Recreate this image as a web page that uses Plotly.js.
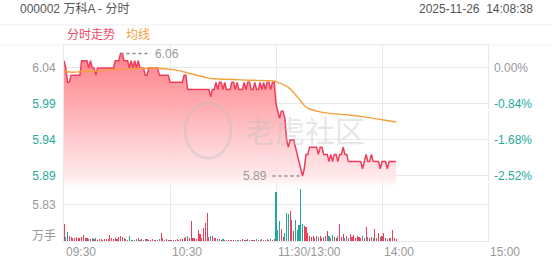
<!DOCTYPE html>
<html>
<head>
<meta charset="utf-8">
<script src="https://cdn.plot.ly/plotly-3.0.1.min.js"></script>
<style>
html,body{margin:0;padding:0;background:#fff;}
#chart{width:552px;height:265px;}
</style>
</head>
<body>
<div id="chart"></div>
<script>
// ---------- data ----------
const stockTitle = '000002 万科A - 分时';
const stamp = '2025-11-26  14:08:38';
const prevClose = 6.04;
// minute index from 09:30 (0) to 15:00 (240), lunch break collapsed
const timeTickVals = [0, 60, 120, 180, 240];
const timeTickText = ['09:30', '10:30', '11:30/13:00', '14:00', '15:00'];

const price = [
  6.05,6.04,6.02,6.02,6.03,6.03,6.03,6.03,6.03,6.03,
  6.05,6.05,6.05,6.05,6.04,6.05,6.04,6.04,6.03,6.04,
  6.04,6.04,6.04,6.04,6.04,6.04,6.04,6.04,6.04,6.05,
  6.05,6.05,6.06,6.06,6.05,6.05,6.05,6.04,6.05,6.04,
  6.05,6.04,6.05,6.04,6.04,6.04,6.03,6.03,6.04,6.04,
  6.04,6.04,6.04,6.04,6.03,6.03,6.03,6.03,6.03,6.03,
  6.02,6.02,6.02,6.02,6.02,6.02,6.02,6.02,6.03,6.03,
  6.01,6.01,6.01,6.01,6.01,6.01,6.01,6.01,6.01,6.01,
  6.01,6.01,6.01,6.00,6.01,6.01,6.02,6.01,6.02,6.02,
  6.01,6.02,6.01,6.01,6.01,6.02,6.02,6.01,6.02,6.01,
  6.01,6.01,6.02,6.01,6.02,6.02,6.01,6.01,6.02,6.01,
  6.01,6.02,6.01,6.02,6.01,6.02,6.02,6.01,6.02,6.02,
  5.99,5.98,5.97,5.98,5.98,5.97,5.94,5.93,5.94,5.94,
  5.94,5.93,5.92,5.91,5.90,5.89,5.90,5.92,5.92,5.93,
  5.93,5.93,5.93,5.93,5.92,5.93,5.93,5.92,5.92,5.92,
  5.91,5.92,5.91,5.92,5.92,5.91,5.92,5.92,5.93,5.92,
  5.92,5.91,5.91,5.91,5.91,5.91,5.91,5.91,5.91,5.90,
  5.91,5.92,5.91,5.91,5.92,5.91,5.91,5.91,5.91,5.90,
  5.91,5.91,5.91,5.90,5.91,5.91,5.91,5.91,5.91
];

const avgIdx = [0,5,10,20,30,40,50,60,66,70,75,80,85,95,105,119,121,124,127,130,133,136,139,145,150,160,170,180,188];
const avgVal = [6.035,6.034,6.035,6.036,6.038,6.039,6.040,6.038,6.036,6.033,6.030,6.027,6.025,6.024,6.023,6.022,6.020,6.017,6.013,6.006,5.997,5.988,5.983,5.979,5.977,5.975,5.972,5.968,5.965];

// volume in 万手
const volume = [
  1.7,0.4,0.9,0.5,0.4,0.3,0.3,0.4,0.3,0.3,
  0.4,0.6,0.3,0.3,0.2,0.2,0.3,0.2,0.3,0.1,
  0.2,0.2,0.1,0.2,0.2,0.2,0.6,0.3,0.2,0.3,
  0.2,0.4,0.5,0.4,0.3,0.2,0.1,0.5,0.1,0.1,
  0.1,0.2,0.3,0.1,0.2,0.1,0.2,0.2,0.1,0.1,
  0.2,0.1,0.1,0.1,0.2,0.8,0.3,0.1,0.2,0.1,
  0.1,0.1,0.1,0.1,0.2,0.1,0.2,0.2,0.3,0.4,
  0.5,0.3,2.0,0.3,0.3,0.2,1.1,0.7,0.3,1.3,
  1.8,2.8,0.4,0.5,0.5,0.3,0.3,0.2,0.2,0.1,
  0.2,0.1,0.1,0.1,0.1,0.1,0.1,0.1,0.1,0.1,
  0.1,0.2,0.1,0.1,0.2,0.1,0.1,0.1,0.1,0.2,
  0.1,0.1,0.2,0.1,0.1,0.2,0.1,0.2,0.1,0.2,
  4.9,1.1,2.0,1.2,0.4,0.8,2.8,2.7,3.0,2.1,
  1.0,2.1,1.1,1.6,5.2,1.7,1.5,1.4,0.8,0.5,
  0.4,0.5,0.3,0.5,0.4,0.5,0.3,0.4,0.5,1.0,
  0.5,0.3,0.6,0.4,0.3,0.5,1.7,0.4,0.7,0.3,
  0.5,0.3,0.7,0.4,0.6,0.3,0.5,0.4,0.3,0.5,
  0.3,1.4,0.4,0.3,0.4,0.3,1.2,0.3,0.8,0.4,
  0.5,0.8,0.3,0.2,0.3,0.3,1.1,0.3,0.2
];

const leftTickVals = [6.04, 5.99, 5.94, 5.89, 5.85];
const leftTickText = ['6.04', '5.99', '5.94', '5.89', '5.83'];
const rightTickVals = [6.04, 5.99, 5.94, 5.89];
const rightTickText = ['0.00%', '-0.84%', '-1.68%', '-2.52%'];
const legendText = ['分时走势', '均线'];
const volUnit = '万手';
const watermark = '老虎社区';

// ---------- styles ----------
const RED = '#ef3e5c', GREEN = '#1fa99b', GRAY = '#999999', ORANGE = '#f5a03c';
const GRID = '#e8e8e8';
const FONT = 'Liberation Sans, Arial, Noto Sans CJK SC, sans-serif';
const leftTickColors = [GRAY, GREEN, GREEN, GREEN, GRAY];
const rightTickColors = [GRAY, GREEN, GREEN, GREEN];

const idx = price.map((_, i) => i);
const volColors = price.map((p, i) => (i > 0 && p < price[i - 1]) ? GREEN : RED);

const priceRange = [5.7997, 6.0719];

const hi = Math.max(...price), lo = Math.min(...price);
const hiIdx = price.indexOf(hi), loIdx = price.indexOf(lo);

const traces = [
  {
    type: 'bar', x: idx, y: volume, yaxis: 'y3',
    marker: {color: volColors, line: {width: 0}}, width: 0.62,
    hoverinfo: 'skip', showlegend: false
  },
  {
    type: 'scatter', mode: 'lines', x: idx, y: price,
    line: {color: RED, width: 1.5, shape: 'linear'},
    fill: 'tozeroy',
    fillgradient: {
      type: 'vertical', start: 5.874, stop: 6.062,
      colorscale: [
        [0, 'rgba(255,240,242,0)'],
        [0.06, 'rgba(255,234,236,0.9)'],
        [0.35, 'rgba(255,198,202,0.9)'],
        [0.62, 'rgba(255,160,166,0.9)'],
        [0.89, 'rgba(255,128,136,0.9)'],
        [1, 'rgba(255,116,126,0.9)']
      ]
    },
    hoverinfo: 'skip', showlegend: false
  },
  {
    type: 'scatter', mode: 'lines', x: avgIdx, y: avgVal,
    line: {color: ORANGE, width: 1.4, shape: 'spline', smoothing: 0.6},
    hoverinfo: 'skip', showlegend: false
  },
  {
    type: 'scatter', mode: 'markers', x: [0], y: [prevClose], yaxis: 'y2',
    marker: {opacity: 0}, hoverinfo: 'skip', showlegend: false
  }
];

const pxX = px => (px - 64) / 424;   // helper for header items outside the plot
const pxY = py => (241 - py) / 196;

const annotations = [];
timeTickVals.forEach((v, k) => annotations.push({
  x: v, xref: 'x', y: pxY(252), yref: 'paper', text: timeTickText[k],
  showarrow: false, xanchor: 'left', yanchor: 'middle',
  font: {family: FONT, size: 12, color: GRAY}
}));
annotations.push({
  x: pxX(535), xref: 'paper', y: pxY(9), yref: 'paper', text: stamp,
  showarrow: false, xanchor: 'right', yanchor: 'middle',
  font: {family: FONT, size: 12, color: '#555'}
});
annotations.push({
  x: pxX(65), xref: 'paper', y: pxY(35), yref: 'paper', text: legendText[0],
  showarrow: false, xanchor: 'left', yanchor: 'middle',
  font: {family: FONT, size: 12, color: '#ec4a66'}
});
annotations.push({
  x: pxX(124), xref: 'paper', y: pxY(35), yref: 'paper', text: legendText[1],
  showarrow: false, xanchor: 'left', yanchor: 'middle',
  font: {family: FONT, size: 12, color: ORANGE}
});
annotations.push({
  x: pxX(58), xref: 'paper', y: pxY(236), yref: 'paper', text: volUnit,
  showarrow: false, xanchor: 'right', yanchor: 'middle',
  font: {family: FONT, size: 12, color: GRAY}
});
annotations.push({
  x: hiIdx + 18.5, xref: 'x', y: hi, yref: 'y', text: hi.toFixed(2),
  showarrow: false, xanchor: 'left', yanchor: 'middle',
  font: {family: FONT, size: 12, color: GRAY}
});
annotations.push({
  x: loIdx - 19, xref: 'x', y: lo, yref: 'y', text: lo.toFixed(2),
  showarrow: false, xanchor: 'right', yanchor: 'middle',
  font: {family: FONT, size: 12, color: GRAY}
});
annotations.push({
  x: pxX(305), xref: 'paper', y: pxY(129), yref: 'paper', text: watermark,
  showarrow: false, xanchor: 'center', yanchor: 'middle',
  font: {family: 'Noto Sans CJK SC, sans-serif', size: 30, color: 'rgba(185,185,185,0.34)'}
});

const shapes = [
  {type: 'line', xref: 'paper', yref: 'paper', x0: pxX(0), x1: pxX(552), y0: pxY(25), y1: pxY(25),
   line: {color: '#efefef', width: 1}},
  {type: 'line', xref: 'paper', yref: 'paper', x0: pxX(0), x1: pxX(552), y0: pxY(45), y1: pxY(45),
   line: {color: '#f2f2f2', width: 1}},
  {type: 'line', xref: 'x', yref: 'y', x0: hiIdx, x1: hiIdx + 17, y0: hi, y1: hi,
   line: {color: '#8c8c8c', width: 1.5, dash: '3px,3px'}},
  {type: 'line', xref: 'x', yref: 'y', x0: loIdx - 17, x1: loIdx, y0: lo, y1: lo,
   line: {color: '#8c8c8c', width: 1.5, dash: '3px,3px'}},
  {type: 'circle', xref: 'paper', yref: 'paper', x0: pxX(185), x1: pxX(231), y0: pxY(158), y1: pxY(103),
   line: {color: 'rgba(190,190,190,0.35)', width: 3}, layer: 'above'}
];

const layout = {
  width: 552, height: 265,
  margin: {l: 64, r: 64, t: 45, b: 24, pad: 0},
  paper_bgcolor: '#ffffff', plot_bgcolor: '#ffffff',
  font: {family: FONT, size: 12, color: GRAY},
  title: {
    text: stockTitle, x: 20 / 552, xanchor: 'left', xref: 'container',
    y: 1 - 9 / 265, yref: 'container', yanchor: 'middle',
    font: {family: FONT, size: 12, color: '#555'}
  },
  showlegend: false,
  bargap: 0,
  xaxis: {
    range: [0, 240], tickvals: timeTickVals, showticklabels: false, ticks: '',
    showgrid: true, gridcolor: GRID, gridwidth: 1, zeroline: false,
    showline: true, mirror: true, linecolor: GRID, linewidth: 1, fixedrange: true
  },
  yaxis: {
    range: priceRange, tickvals: leftTickVals,
    ticktext: leftTickText.map((t, k) => `<span style="color:${leftTickColors[k]}">${t}</span>`),
    ticks: '', ticklabelstandoff: 5, showgrid: true, gridcolor: GRID, gridwidth: 1,
    zeroline: false, showline: true, mirror: true, linecolor: GRID, fixedrange: true,
    tickfont: {family: FONT, size: 12, color: GRAY}
  },
  yaxis2: {
    overlaying: 'y', side: 'right', range: priceRange, tickvals: rightTickVals,
    ticktext: rightTickText.map((t, k) => `<span style="color:${rightTickColors[k]}">${t}</span>`),
    ticks: '', ticklabelstandoff: 5, showgrid: false, zeroline: false, showline: false,
    fixedrange: true, tickfont: {family: FONT, size: 12, color: GRAY}
  },
  yaxis3: {
    overlaying: 'y', side: 'left', range: [0, 19.6], showticklabels: false,
    showgrid: false, zeroline: false, showline: false, fixedrange: true
  },
  annotations: annotations,
  shapes: shapes
};

Plotly.newPlot('chart', traces, layout, {staticPlot: true, displayModeBar: false});
</script>
</body>
</html>
